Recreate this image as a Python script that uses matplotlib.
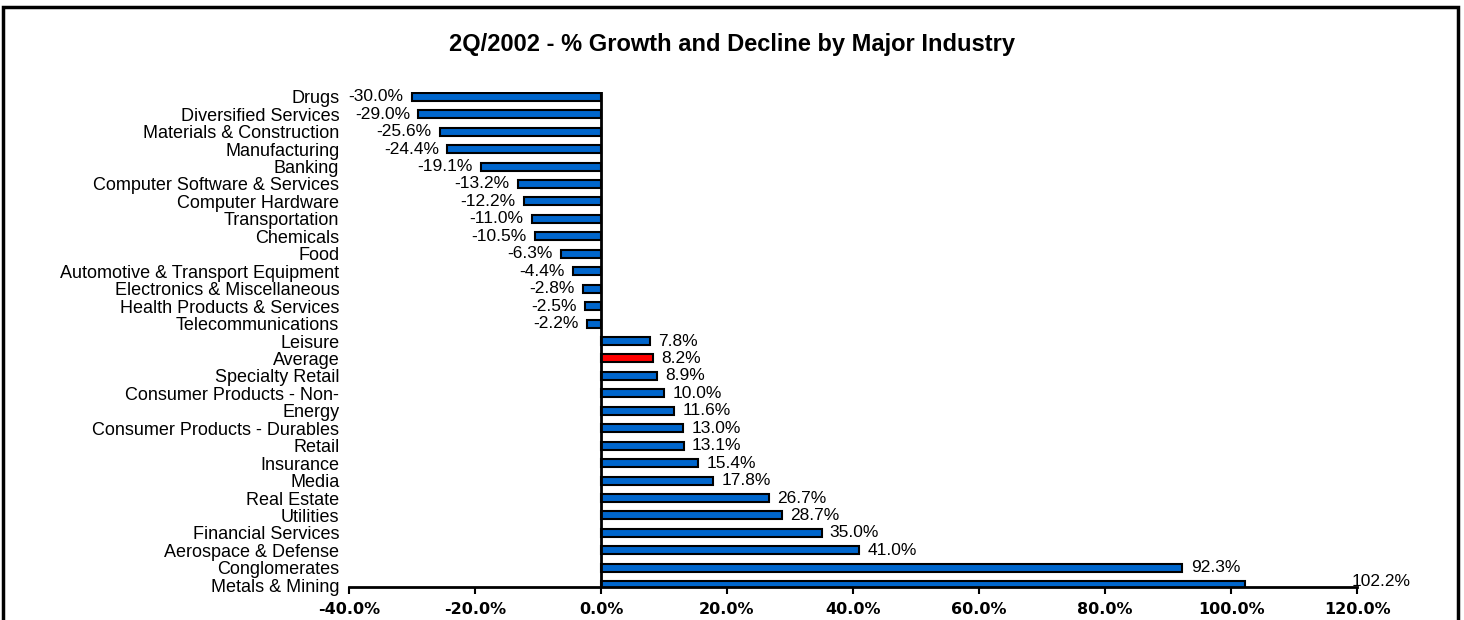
import matplotlib
matplotlib.use("Agg")
import matplotlib.pyplot as plt
from matplotlib.patches import Rectangle

categories = [
    "Drugs", "Diversified Services", "Materials & Construction", "Manufacturing",
    "Banking", "Computer Software & Services", "Computer Hardware", "Transportation",
    "Chemicals", "Food", "Automotive & Transport Equipment", "Electronics & Miscellaneous",
    "Health Products & Services", "Telecommunications", "Leisure", "Average",
    "Specialty Retail", "Consumer Products - Non-", "Energy", "Consumer Products - Durables",
    "Retail", "Insurance", "Media", "Real Estate", "Utilities", "Financial Services",
    "Aerospace & Defense", "Conglomerates", "Metals & Mining",
]
values = [
    -30.0, -29.0, -25.6, -24.4, -19.1, -13.2, -12.2, -11.0, -10.5, -6.3, -4.4, -2.8,
    -2.5, -2.2, 7.8, 8.2, 8.9, 10.0, 11.6, 13.0, 13.1, 15.4, 17.8, 26.7, 28.7, 35.0,
    41.0, 92.3, 102.2,
]
highlight = "Average"
xticks = [-40, -20, 0, 20, 40, 60, 80, 100, 120]
xtick_labels = ["-40.0%", "-20.0%", "0.0%", "20.0%", "40.0%", "60.0%", "80.0%", "100.0%", "120.0%"]
title = "2Q/2002 - % Growth and Decline by Major Industry"

plt.rcParams['font.family'] = ['Liberation Sans', 'DejaVu Sans']

W, H = 1464, 620
fig = plt.figure(figsize=(W / 100, H / 100), dpi=100)
ax = fig.add_axes([349 / W, 1 - 587 / H, (1357 - 349) / W, (587 - 92.4) / H])

ypos = list(range(len(categories)))
colors = ["#FF0000" if c == highlight else "#0066CC" for c in categories]
ax.barh(ypos, values, height=0.46, color=colors, edgecolor="black", linewidth=1.5, zorder=2)

ax.set_xlim(-40, 120)
ax.set_ylim(28.1, -0.25)
ax.set_yticks(ypos)
ax.set_yticklabels(categories, fontsize=13)
ax.tick_params(axis='y', length=0, pad=7)
ax.set_xticks(xticks)
ax.set_xticklabels(xtick_labels, fontsize=11.5, fontweight='bold', family='DejaVu Sans')
ax.tick_params(axis='x', length=5, width=1.5, direction='out', pad=6)

for s in ['top', 'right', 'left']:
    ax.spines[s].set_visible(False)
ax.spines['bottom'].set_linewidth(2)
ax.axvline(0, color='black', linewidth=2, zorder=3)

for i, v in enumerate(values):
    lab = f"{v:.1f}%"
    if i == len(values) - 1:
        ax.annotate(lab, (120, i - 0.2), xytext=(-4, 0), textcoords='offset points',
                    ha='left', va='center', fontsize=12.5, annotation_clip=False)
    elif v < 0:
        ax.annotate(lab, (v, i), xytext=(-6, 0), textcoords='offset points',
                    ha='right', va='center', fontsize=12.5)
    else:
        ax.annotate(lab, (v, i), xytext=(6, 0), textcoords='offset points',
                    ha='left', va='center', fontsize=12.5)

fig.text(0.5, 1 - 45 / H, title, ha='center', va='center', fontsize=17, fontweight='bold')
fig.patches.append(Rectangle((3 / W, -20 / H), (1458 - 3) / W, (613 + 20) / H,
                             transform=fig.transFigure, fill=False, edgecolor='black',
                             linewidth=2.5))

fig.savefig("out.png", dpi=100)
